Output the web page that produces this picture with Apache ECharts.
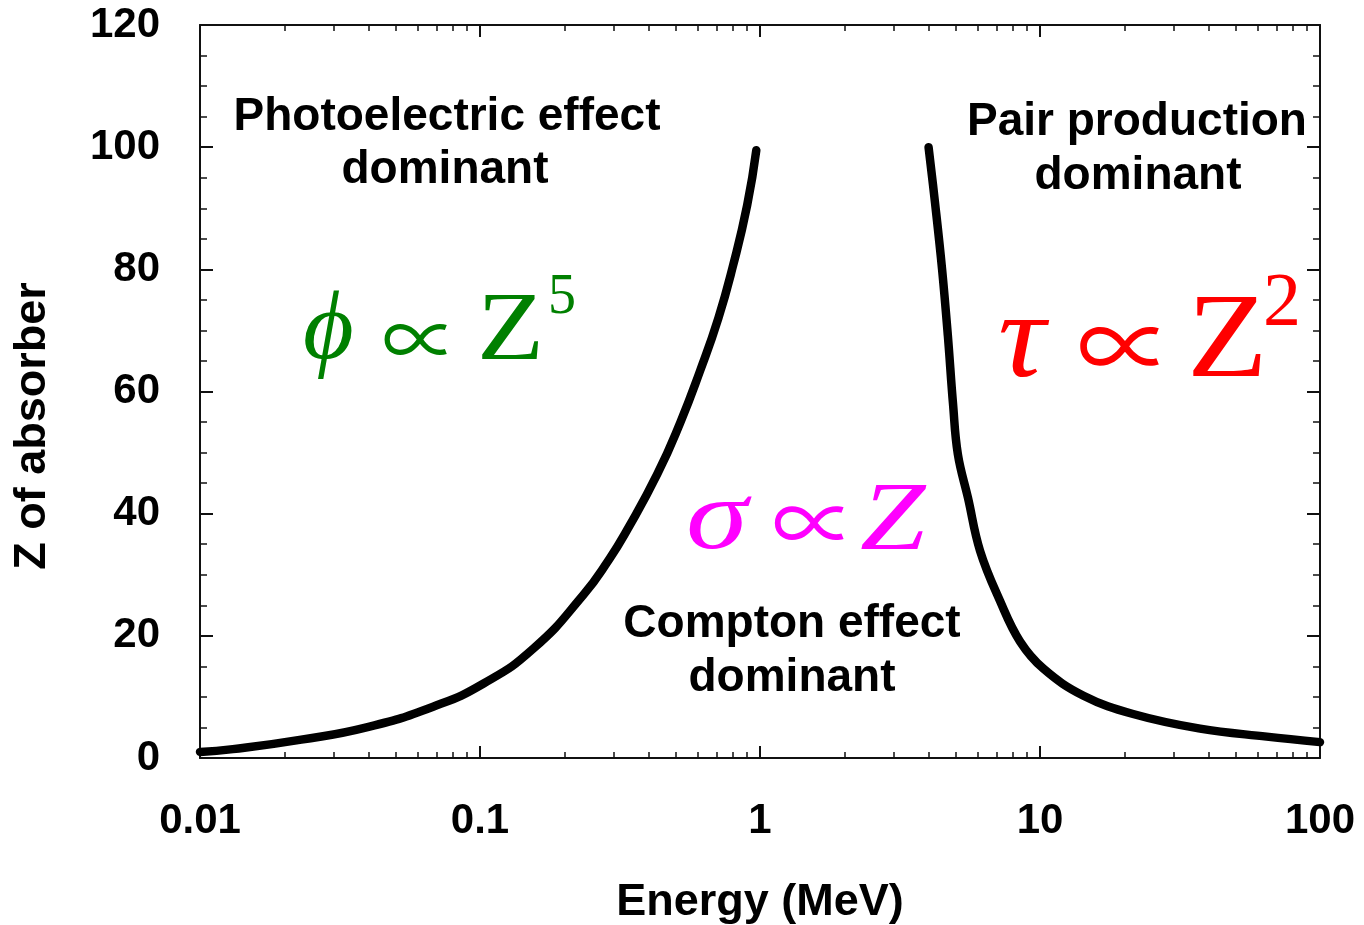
<!DOCTYPE html>
<html>
<head>
<meta charset="utf-8">
<title>Dominant photon interaction vs. energy and Z</title>
<script src="https://cdn.jsdelivr.net/npm/echarts@6/dist/echarts.min.js"></script>
<style>
  html, body { margin: 0; padding: 0; background: #ffffff; }
  #chart { width: 1364px; height: 925px; }
</style>
</head>
<body>
<div id="chart"></div>
<script>
// Boundary where photoelectric and Compton cross sections are equal (MeV, Z)
const photoComptonEnergy = [0.01, 0.0131, 0.023, 0.040, 0.068, 0.103, 0.155, 0.233, 0.29, 0.335, 0.43, 0.52, 0.61, 0.71, 0.80, 0.90, 0.97];
const photoComptonZ      = [1.0, 1.45, 3.0, 5.1, 8.4, 12.2, 17.9, 26.6, 32.6, 37.3, 46.5, 55.0, 63.3, 72, 80.5, 90.5, 99.5];

// Boundary where Compton and pair production cross sections are equal (MeV, Z)
const comptonPairEnergy = [4.0, 4.22, 4.47, 4.69, 4.89, 5.09, 5.53, 6.11, 7.2, 8.48, 10.3, 14.3, 21.5, 37.3, 64.5, 100];
const comptonPairZ      = [100, 90.8, 80, 69, 58, 49.7, 42.6, 33.9, 25.7, 19.1, 14.6, 10.2, 7.2, 4.8, 3.5, 2.6];

// Axis tick labels
const xTickLabels = ['0.01', '0.1', '1', '10', '100'];
const yTickLabels = ['0', '20', '40', '60', '80', '100', '120'];

// Log minor tick positions (2..9 within each decade)
const xMinorTicks = [];
[0.01, 0.1, 1, 10].forEach(function (d) {
  for (let k = 2; k <= 9; k++) xMinorTicks.push(+(d * k).toPrecision(3));
});

const toPairs = (xs, ys) => xs.map((x, i) => [x, ys[i]]);

const SANS = '"Liberation Sans", Arial, Helvetica, sans-serif';
const SERIF = '"Liberation Serif", "Times New Roman", "DejaVu Serif", serif';
const SYMBOL = '"Noto Sans CJK JP", "DejaVu Serif", serif';

const frameLine = { show: true, lineStyle: { color: '#111', width: 2 } };

function logAxis(position, extra) {
  return Object.assign({
    type: 'log',
    logBase: 10,
    min: 0.01,
    max: 100,
    position: position,
    axisLine: frameLine,
    axisTick: { show: true, inside: true, length: 12, lineStyle: { color: '#111', width: 2 } },
    axisLabel: { show: false },
    splitLine: { show: false },
    minorTick: { show: false },
    minorSplitLine: { show: false }
  }, extra || {});
}

function minorLogAxis(position) {
  return logAxis(position, {
    axisLine: { show: false },
    axisTick: { show: true, inside: true, length: 6, customValues: xMinorTicks, lineStyle: { color: '#111', width: 1.5 } }
  });
}

function valueAxis(position, extra) {
  return Object.assign({
    type: 'value',
    min: 0,
    max: 120,
    interval: 20,
    position: position,
    axisLine: frameLine,
    axisTick: { show: true, inside: true, length: 13, lineStyle: { color: '#111', width: 2 } },
    minorTick: { show: true, splitNumber: 4, length: 7, lineStyle: { color: '#111', width: 1.5 } },
    axisLabel: { show: false },
    splitLine: { show: false }
  }, extra || {});
}

const tickFont = { color: '#000', fontFamily: SANS, fontWeight: 'bold', fontSize: 42 };

const chart = echarts.init(document.getElementById('chart'), null, { renderer: 'canvas' });

// Text annotations: region names, axis title and proportionality laws
function label(text, x, y, size, rotation) {
  return {
    type: 'text', x: x, y: y, z: 10, rotation: rotation || 0,
    style: { text: text, fill: '#000', font: 'bold ' + size + 'px ' + SANS, align: 'center', verticalAlign: 'middle' }
  };
}
function mathText(text, x, y, size, color, opts) {
  opts = opts || {};
  return {
    type: 'text', x: x, y: y, z: 10,
    scaleX: opts.sx || 1,
    style: {
      text: text, fill: color,
      font: (opts.italic ? 'italic ' : '') + size + 'px ' + (opts.family || SERIF),
      align: 'left', verticalAlign: 'middle'
    }
  };
}

const GREEN = '#008000', MAGENTA = '#ff00ff', RED = '#ff0000';

const graphics = [
  label('Z of absorber', 33, 426, 45, Math.PI / 2),

  label('Photoelectric effect', 447, 117, 46),
  label('dominant', 445, 170, 46),
  label('Pair production', 1137, 122, 46),
  label('dominant', 1138, 176, 46),
  label('Compton effect', 792, 624, 46),
  label('dominant', 792, 678, 46),

  mathText('\u03D5', 303, 332, 98, GREEN, { italic: true }),
  mathText('\u221D', 382, 339, 76, GREEN, { family: SYMBOL }),
  mathText('Z', 477, 333, 98, GREEN, { sx: 1.12 }),
  mathText('5', 548, 298, 56, GREEN),

  mathText('\u03C3', 686, 522, 100, MAGENTA, { italic: true, sx: 1.25 }),
  mathText('\u221D', 772, 523, 84, MAGENTA, { family: SYMBOL }),
  mathText('Z', 860, 523, 98, MAGENTA, { italic: true, sx: 1.2 }),

  mathText('\u03C4', 998, 344, 120, RED, { italic: true, sx: 1.1 }),
  mathText('\u221D', 1077, 346, 96, RED, { family: SYMBOL }),
  mathText('Z', 1187, 344, 120, RED, { sx: 1.1 }),
  mathText('2', 1263, 305, 76, RED)
];

chart.setOption({
  backgroundColor: '#ffffff',
  animation: false,
  grid: { left: 200, right: 44, top: 25, bottom: 167, containLabel: false, outerBoundsMode: 'none' },
  xAxis: [
    logAxis('bottom', {
      name: 'Energy (MeV)',
      nameLocation: 'middle',
      nameGap: 122,
      nameTextStyle: { color: '#000', fontFamily: SANS, fontWeight: 'bold', fontSize: 45 },
      axisLabel: Object.assign({ show: true, margin: 42, formatter: function (v, i) { return xTickLabels[i]; } }, tickFont)
    }),
    minorLogAxis('bottom'),
    logAxis('top'),
    minorLogAxis('top')
  ],
  yAxis: [
    valueAxis('left', {
      axisLabel: Object.assign({ show: true, margin: 40, formatter: function (v, i) { return yTickLabels[i]; } }, tickFont)
    }),
    valueAxis('right')
  ],
  series: [
    {
      name: 'Photoelectric / Compton',
      type: 'line',
      xAxisIndex: 0,
      yAxisIndex: 0,
      data: toPairs(photoComptonEnergy, photoComptonZ),
      smooth: 0.5,
      showSymbol: false,
      lineStyle: { color: '#000', width: 8.5, cap: 'round' }
    },
    {
      name: 'Compton / Pair production',
      type: 'line',
      xAxisIndex: 0,
      yAxisIndex: 0,
      data: toPairs(comptonPairEnergy, comptonPairZ),
      smooth: 0.4,
      showSymbol: false,
      lineStyle: { color: '#000', width: 8.5, cap: 'round' }
    }
  ],
  graphic: graphics
});
</script>
</body>
</html>
